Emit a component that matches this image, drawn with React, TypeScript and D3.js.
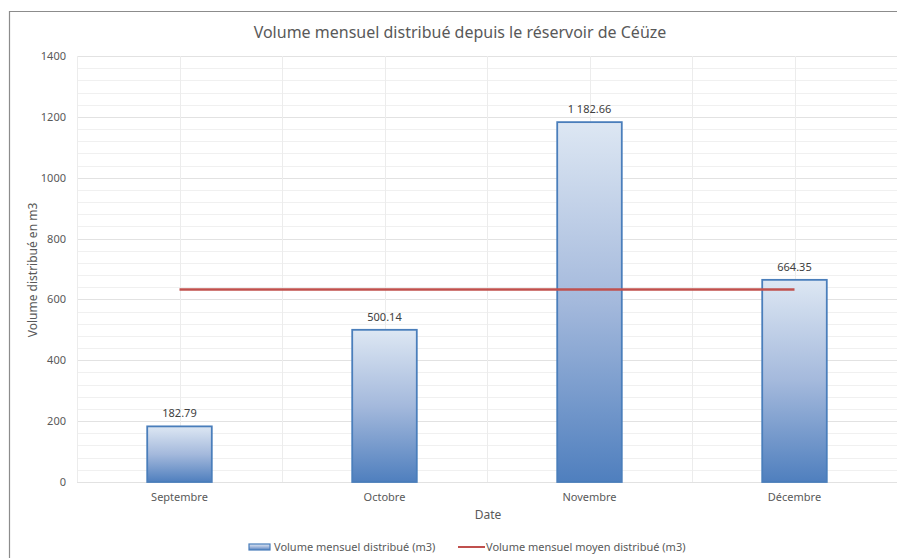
import React from "react";
import * as d3 from "d3";

const categories = ["Septembre", "Octobre", "Novembre", "Décembre"];
const volumes = [182.79, 500.14, 1182.66, 664.35];
const labels = ["182.79", "500.14", "1 182.66", "664.35"];
const yTicks = [0, 200, 400, 600, 800, 1000, 1200, 1400];
const title = "Volume mensuel distribué depuis le réservoir de Céüze";
const seriesNames = ["Volume mensuel distribué (m3)", "Volume mensuel moyen distribué (m3)"];

const W = 897, H = 558;
const left = 77, right = 897, top = 56, bottom = 482;
const FONT = "'Noto Sans', 'Open Sans', sans-serif";

export default function App() {
  const x = d3.scaleBand<string>().domain(categories).range([left, right]).paddingInner(0).paddingOuter(0);
  const y = d3.scaleLinear().domain([0, 1400]).range([bottom, top]);
  const bw = x.bandwidth() * 0.315;
  const mean = d3.mean(volumes) as number;
  const minorTicks = d3.range(0, 1401, 40);
  const vGrid: number[] = [];
  categories.forEach((c) => {
    vGrid.push(x(c)!);
    vGrid.push(x(c)! + x.bandwidth() / 2);
  });
  vGrid.push(right);
  const centers = categories.map((c) => x(c)! + x.bandwidth() / 2);
  const line = d3.line<number>().x((_, i) => centers[i]).y(() => y(mean));

  return (
    <svg width={W} height={H} style={{ position: "absolute", left: 0, top: 0, background: "#fff" }} fontFamily={FONT}>
      <defs>
        <linearGradient id="barGrad" x1="0" y1="0" x2="0" y2="1">
          <stop offset="0%" stopColor="#dde7f3" />
          <stop offset="50%" stopColor="#a4b9dc" />
          <stop offset="100%" stopColor="#4f7fbe" />
        </linearGradient>
      </defs>
      <rect x={0} y={0} width={W} height={H} fill="#fff" />
      <line x1={9.5} y1={11} x2={9.5} y2={H} stroke="#8c8c8c" strokeWidth={1.2} />
      <line x1={9} y1={11.5} x2={W} y2={11.5} stroke="#8c8c8c" strokeWidth={1.2} />
      <text x={460} y={38} textAnchor="middle" fontSize={16} fill="#595959">{title}</text>
      {minorTicks.map((t) => (
        <line key={"m" + t} x1={left} x2={right} y1={Math.round(y(t)) + 0.5} y2={Math.round(y(t)) + 0.5}
          stroke={t % 200 === 0 ? "#e2e2e2" : "#f0f0f0"} strokeWidth={1} />
      ))}
      {vGrid.map((v, i) => (
        <line key={"v" + i} x1={Math.round(v) + 0.5} x2={Math.round(v) + 0.5} y1={top} y2={bottom} stroke="#ececec" strokeWidth={1} />
      ))}
      {yTicks.map((t) => (
        <text key={"t" + t} x={66} y={y(t) + 4} textAnchor="end" fontSize={11} fill="#595959">{t}</text>
      ))}
      {categories.map((c, i) => {
        const cx = centers[i];
        return (
          <g key={c}>
            <rect x={cx - bw / 2} y={y(volumes[i])} width={bw} height={bottom - y(volumes[i])}
              fill="url(#barGrad)" stroke="#4a7ebb" strokeWidth={1.8} />
            <text x={cx} y={y(volumes[i]) - 9} textAnchor="middle" fontSize={11} fill="#404040">{labels[i]}</text>
            <text x={cx} y={501} textAnchor="middle" fontSize={11} fill="#595959">{c}</text>
          </g>
        );
      })}
      <path d={line(volumes) || ""} fill="none" stroke="#c0504d" strokeWidth={2.5} />
      <text x={488} y={519} textAnchor="middle" fontSize={12} fill="#595959">Date</text>
      <text transform={`translate(37,270) rotate(-90)`} textAnchor="middle" fontSize={12} fill="#595959">Volume distribué en m3</text>
      <rect x={249} y={544} width={21} height={6} fill="url(#barGrad)" stroke="#4a7ebb" strokeWidth={1.2} />
      <text x={274} y={551} fontSize={11} fill="#595959">{seriesNames[0]}</text>
      <line x1={458} x2={485} y1={547} y2={547} stroke="#c0504d" strokeWidth={2} />
      <text x={486} y={551} fontSize={11} fill="#595959">{seriesNames[1]}</text>
    </svg>
  );
}
